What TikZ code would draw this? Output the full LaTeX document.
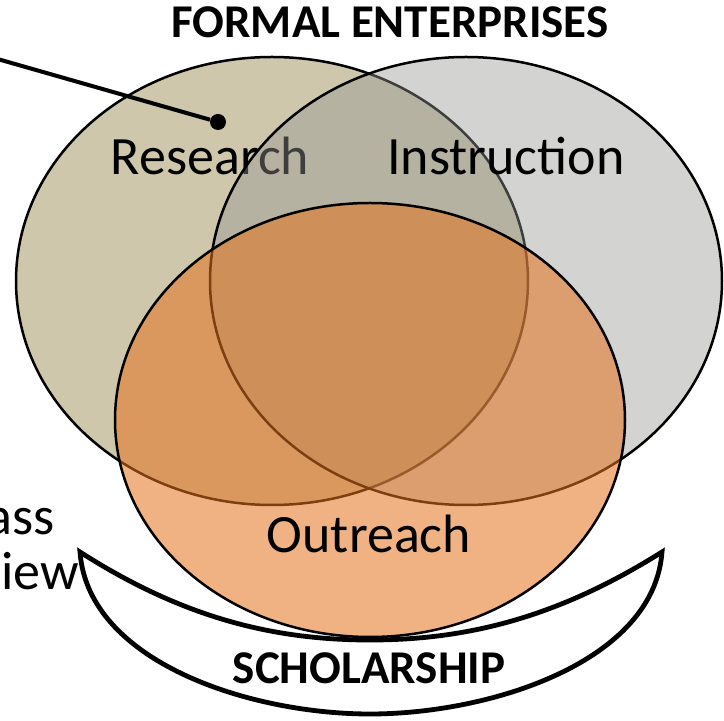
\documentclass[tikz,border=0pt]{standalone}
\usepackage{fontspec}
\setmainfont{Carlito}
\usetikzlibrary{shapes.geometric}

\definecolor{researchTan}{RGB}{206,199,172}
\definecolor{instructionGray}{RGB}{150,150,148}
\definecolor{outreachOrange}{RGB}{228,115,30}

\tikzstyle{area} = [ellipse, draw=black, line width=1.25pt, inner sep=0pt]
\tikzstyle{areaText} = [anchor=base, inner sep=0pt, font=\fontsize{27}{31}\selectfont]
\tikzstyle{heading} = [anchor=base, inner sep=0pt, font=\fontsize{23.5}{28}\selectfont\bfseries]
\tikzstyle{pointer} = [line width=2pt]

\begin{document}
\begin{tikzpicture}[x=0.5pt, y=-0.5pt]
\useasboundingbox (0,0) rectangle (724,721);
\clip (0,0) rectangle (724,721);

\node (research) [area, fill=researchTan, minimum width=256pt, minimum height=224pt] at (272,281) {};
\node (researchText) [areaText] at (210,175) {Research};
\node (instruction) [area, fill=instructionGray, fill opacity=0.42, minimum width=256pt, minimum height=224pt] at (466,281) {};
\node (instructionText) [areaText] at (506,175) {Instruction};
\node (outreach) [area, fill=outreachOrange, fill opacity=0.55, minimum width=255pt, minimum height=217pt] at (370,420) {};
\node (outreachText) [areaText] at (369,553) {Outreach};

\node (dot) [circle, fill=black, inner sep=0pt, minimum size=8pt] at (218,122) {};
\coordinate (pointerEnd) at (-20,54);
\draw [pointer] (pointerEnd) -- (dot);

\draw [line width=2.4pt, fill=white] (80,552) .. controls (88,662) and (250,714) .. (370,714)
  .. controls (490,714) and (654,662) .. (662,552)
  .. controls (560,616) and (470,640) .. (370,640)
  .. controls (270,640) and (180,616) .. cycle;
\node (scholarship) [heading] at (369,684) {SCHOLARSHIP};
\node (formal) [heading] at (390,38) {FORMAL ENTERPRISES};

\node (assText) [areaText, anchor=base east] at (55,535) {ass};
\node (viewText) [areaText, anchor=base east] at (79,590) {view};
\end{tikzpicture}
\end{document}
